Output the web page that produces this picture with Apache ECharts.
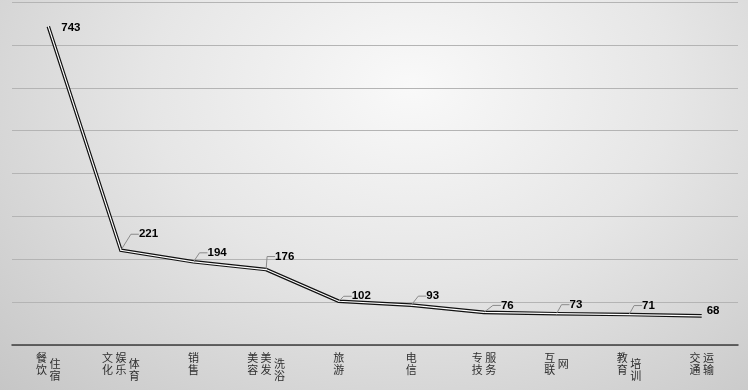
<!DOCTYPE html>
<html>
<head>
<meta charset="utf-8">
<script src="https://cdn.jsdelivr.net/npm/echarts@6/dist/echarts.min.js"></script>
<style>
html,body{margin:0;padding:0;}
#c{width:748px;height:390px;background:radial-gradient(ellipse at 55% 22%, #f9f9f9 0%, #e6e6e6 45%, #c6c6c6 100%);}
</style>
</head>
<body>
<div id="c"></div>
<script>
// Category names, written as the columns they are printed in
const labelColumns = [
  ['餐饮', '住宿'],
  ['文化', '娱乐', '体育'],
  ['销售'],
  ['美容', '美发', '洗浴'],
  ['旅游'],
  ['电信'],
  ['专技', '服务'],
  ['互联', '网'],
  ['教育', '培训'],
  ['交通', '运输']
];
const categories = labelColumns.map(c => c.join(''));
const values = [743, 221, 194, 176, 102, 93, 76, 73, 71, 68];
const yTicks = [0, 100, 200, 300, 400, 500, 600, 700, 800];

// ---- presentation (not data) ----
const columnShift = [[0,1],[0,0,1],[0],[0,0,1],[0],[0],[0,0],[0,1],[0,1],[0,0]];
const labelOffsets = [[13,1],[18,-16],[14,-9],[9,-13],[13,-5],[15,-9],[17,-7],[13,-9],[13,-9],[5,-5]];
const noLeader = [true,false,false,false,false,false,false,false,false,true];

function buildLabel(idx) {
  const cols = labelColumns[idx];
  const sh = columnShift[idx];
  let rows = 0;
  cols.forEach((c, i) => { rows = Math.max(rows, sh[i] + 2 * c.length); });
  const lines = [];
  for (let r = 0; r < rows; r++) {
    const parts = cols.map((c, i) => {
      const k = (r - sh[i]);
      if (k >= 0 && k % 2 === 0 && k / 2 < c.length) return c[k / 2];
      return '\u3000';
    });
    lines.push(parts.join(' '));
  }
  return lines.join('\n');
}

const chart = echarts.init(document.getElementById('c'), null, {renderer: 'canvas'});
const seriesData = values.map((v, i) => ({
  value: v,
  labelLine: {show: !noLeader[i]}
}));

chart.setOption({
  backgroundColor: 'transparent',
  animation: false,
  grid: {left: 12, right: 10, top: 2, bottom: 45, containLabel: false},
  xAxis: {
    type: 'category',
    data: categories,
    boundaryGap: true,
    axisLine: {show: true, lineStyle: {color: '#3c3c3c', width: 1.5}},
    axisTick: {show: false},
    axisLabel: {
      interval: 0,
      margin: 10,
      formatter: function (val, idx) { return buildLabel(idx); },
      fontFamily: 'Noto Sans CJK SC',
      fontSize: 11,
      lineHeight: 6,
      color: '#2e2e2e',
      verticalAlign: 'top'
    }
  },
  yAxis: {
    type: 'value',
    min: yTicks[0],
    max: yTicks[yTicks.length - 1],
    interval: yTicks[1] - yTicks[0],
    axisLine: {show: false},
    axisTick: {show: false},
    axisLabel: {show: false},
    splitLine: {show: true, lineStyle: {color: '#b4b4b4', width: 1}}
  },
  series: [
    {
      type: 'line',
      data: values,
      symbol: 'none',
      lineStyle: {color: '#111', width: 3.6, join: 'miter'},
      silent: true,
      z: 2
    },
    {
      type: 'line',
      data: seriesData,
      symbol: 'circle',
      symbolSize: 1,
      showSymbol: true,
      itemStyle: {color: '#fff'},
      lineStyle: {color: '#ffffff', width: 1.2, join: 'miter'},
      silent: true,
      z: 3,
      label: {
        show: true,
        fontFamily: 'Liberation Sans',
        fontWeight: 'bold',
        fontSize: 11.5,
        color: '#000',
        padding: [0, 0, 0, 4]
      },
      labelLine: {
        show: true,
        length2: 8,
        lineStyle: {color: '#8a8a8a', width: 1}
      },
      labelLayout: function (p) {
        const o = labelOffsets[p.dataIndex];
        const cx = p.rect.x + p.rect.width / 2;
        const cy = p.rect.y + p.rect.height / 2;
        return {x: cx + o[0] - 4, y: cy + o[1], align: 'left', verticalAlign: 'middle'};
      }
    }
  ]
});
</script>
</body>
</html>
